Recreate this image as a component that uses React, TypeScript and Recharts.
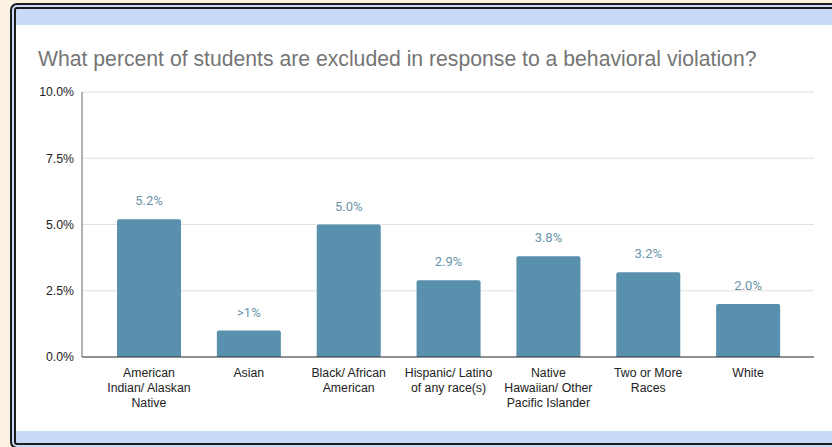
import { BarChart, Bar, XAxis, YAxis, CartesianGrid, LabelList } from "recharts"

const categories = [
  "American Indian/ Alaskan Native",
  "Asian",
  "Black/ African American",
  "Hispanic/ Latino of any race(s)",
  "Native Hawaiian/ Other Pacific Islander",
  "Two or More Races",
  "White",
]

// how each category label wraps under the axis
const categoryLines = [
  ["American", "Indian/ Alaskan", "Native"],
  ["Asian"],
  ["Black/ African", "American"],
  ["Hispanic/ Latino", "of any race(s)"],
  ["Native", "Hawaiian/ Other", "Pacific Islander"],
  ["Two or More", "Races"],
  ["White"],
]

const percents = [5.2, 1.0, 5.0, 2.9, 3.8, 3.2, 2.0]
const valueLabels = ["5.2%", ">1%", "5.0%", "2.9%", "3.8%", "3.2%", "2.0%"]
const yTicks = [0, 2.5, 5, 7.5, 10]

const data = categories.map((name, i) => ({
  name,
  value: percents[i],
  label: valueLabels[i],
}))

const CategoryTick = (props: any) => {
  const { x, y, index } = props
  const lines = categoryLines[index] || [props.payload.value]
  return (
    <text
      x={x}
      y={y}
      textAnchor="middle"
      fill="#222"
      fontSize={12.3}
      fontFamily="'Liberation Sans', Arial, sans-serif"
    >
      {lines.map((l: string, k: number) => (
        <tspan key={k} x={x} y={y + 12 + k * 15}>
          {l}
        </tspan>
      ))}
    </text>
  )
}

export default function App() {
  return (
    <div
      style={{
        position: "absolute",
        left: 0,
        top: 0,
        width: 832,
        height: 447,
        overflow: "hidden",
        background: "#fbf2e2",
      }}
    >
      <div
        style={{
          position: "absolute",
          left: 10,
          top: 3,
          width: 840,
          height: 446,
          border: "6px double #1c1c1c",
          borderRadius: 7,
          background: "#c9daf8",
          boxSizing: "border-box",
        }}
      >
        <div
          style={{
            position: "absolute",
            left: 0,
            right: 0,
            top: 16,
            height: 406,
            background: "#ffffff",
          }}
        />
      </div>
      <div
        style={{
          position: "absolute",
          left: 38,
          top: 47,
          fontFamily: "'Liberation Sans', Arial, sans-serif",
          fontSize: 21.2,
          color: "#757575",
          whiteSpace: "nowrap",
          lineHeight: "24px",
        }}
      >
        What percent of students are excluded in response to a behavioral violation?
      </div>
      <div style={{ position: "absolute", left: 0, top: 0 }}>
        <BarChart
          width={832}
          height={447}
          data={data}
          margin={{ top: 92, right: 18, bottom: 30, left: 22 }}
        >
          <CartesianGrid vertical={false} stroke="#e0e0e0" />
          <XAxis
            dataKey="name"
            height={60}
            interval={0}
            tickLine={false}
            axisLine={{ stroke: "#333" }}
            padding={{ left: 17, right: 16 }}
            tick={<CategoryTick />}
          />
          <YAxis
            width={60}
            domain={[0, 10]}
            ticks={yTicks}
            tickLine={false}
            axisLine={{ stroke: "#666" }}
            tickFormatter={(v: number) => v.toFixed(1) + "%"}
            tick={{
              fill: "#222",
              fontSize: 12.3,
              fontFamily: "'Liberation Sans', Arial, sans-serif",
            }}
          />
          <Bar
            dataKey="value"
            fill="#5890ad"
            barSize={64}
            radius={[2, 2, 0, 0]}
            isAnimationActive={false}
          >
            <LabelList
              dataKey="label"
              position="top"
              offset={14}
              fill="#6a93a9"
              fontSize={13}
              fontFamily="Roboto, sans-serif"
            />
          </Bar>
        </BarChart>
      </div>
    </div>
  )
}
